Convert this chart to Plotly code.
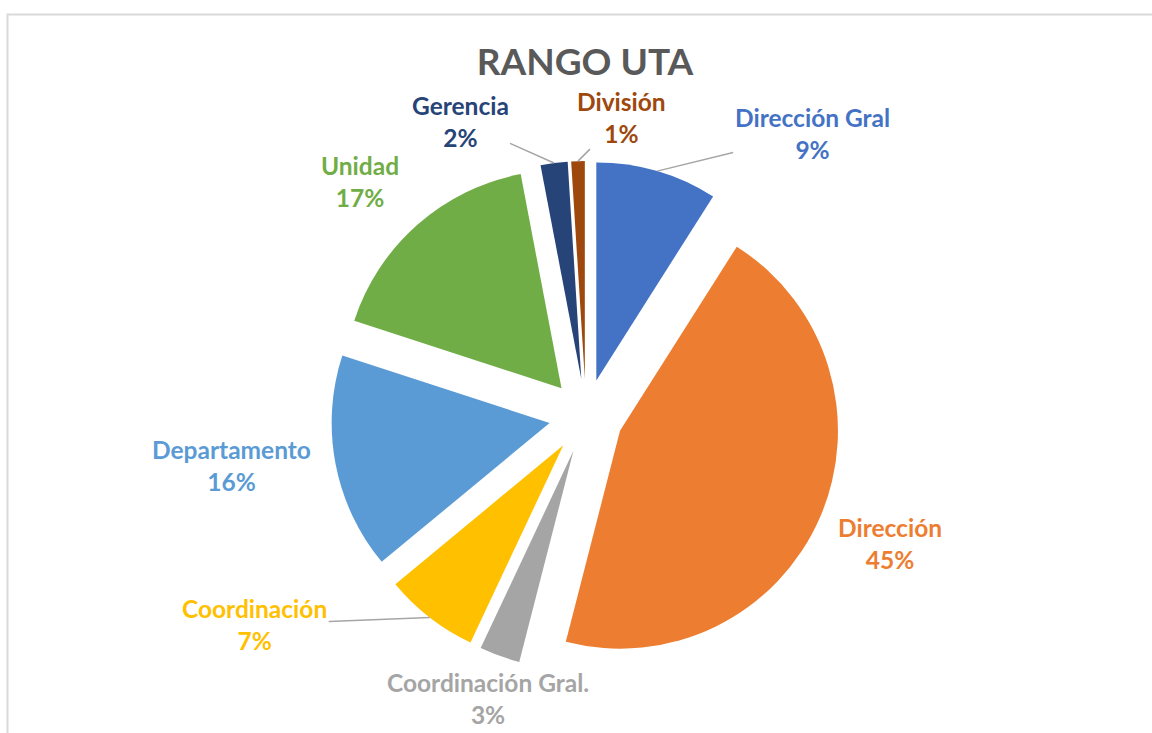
import math
import plotly.graph_objects as go

labels = ["Dirección Gral", "Dirección", "Coordinación Gral.", "Coordinación",
          "Departamento", "Unidad", "Gerencia", "División"]
values = [9, 45, 3, 7, 16, 17, 2, 1]
colors = ["#4472C4", "#ED7D31", "#A5A5A5", "#FFC000",
          "#5B9BD5", "#70AD47", "#264478", "#9E480E"]

W, H = 1152, 733
cx, cy = 586, 416
half = 255
PULL = 0.17
FONT = "Lato, sans-serif"

# label placement: (offset x px, offset y px, draw leader line)
label_style = {
    "Dirección Gral": (155, -38, True),
    "Dirección": (70, 26, False),
    "Coordinación Gral.": (-12, 43, False),
    "Coordinación": (-175, 7, True),
    "Departamento": (-104, 2, False),
    "Unidad": (-57, -43, False),
    "Gerencia": (-94, -42, True),
    "División": (44, -44, True),
}

fig = go.Figure(go.Pie(
    labels=labels,
    values=values,
    sort=False,
    direction="clockwise",
    rotation=0,
    pull=[PULL] * len(values),
    marker=dict(colors=colors, line=dict(width=0)),
    textinfo="none",
    domain=dict(x=[(cx - half) / W, (cx + half) / W],
                y=[(H - cy - half) / H, (H - cy + half) / H]),
    showlegend=False,
    hoverinfo="label+percent",
))

# data labels anchored at each slice's outer edge (angle from the data)
total = sum(values)
cum = 0
annotations = []
for lab, val, col in zip(labels, values, colors):
    mid = (cum + val / 2) / total * 2 * math.pi
    cum += val
    px = cx + half * math.sin(mid)
    py = cy - half * math.cos(mid)
    ox, oy, line = label_style[lab]
    txt = f"<b>{lab}</b><br><b>{round(val / total * 100)}%</b>"
    common = dict(x=px / W, y=1 - py / H, xref="paper", yref="paper", text=txt,
                  xanchor="center", yanchor="middle",
                  font=dict(family=FONT, size=24.5, color=col))
    if line:
        annotations.append(dict(common, showarrow=True, arrowhead=0, arrowwidth=1.5,
                                arrowcolor="#A6A6A6", ax=ox, ay=oy, standoff=0))
    else:
        annotations.append(dict(common, showarrow=False, xshift=ox, yshift=-oy))

fig.update_layout(
    width=W, height=H,
    margin=dict(l=0, r=0, t=0, b=0, autoexpand=False),
    paper_bgcolor="white",
    plot_bgcolor="white",
    title=dict(text="<b>RANGO UTA</b>", x=585 / W, y=1 - 62 / H,
               xanchor="center", yanchor="middle",
               font=dict(family=FONT, size=37, color="#595959")),
    annotations=annotations,
    shapes=[dict(type="rect", xref="paper", yref="paper",
                 x0=7.5 / W, x1=1.02, y0=-0.02, y1=1 - 14.5 / H,
                 line=dict(color="#D9D9D9", width=2), fillcolor="rgba(0,0,0,0)")],
)

fig.write_html("out.html", config={"displayModeBar": False},
               post_script="document.body.style.margin='0';")
